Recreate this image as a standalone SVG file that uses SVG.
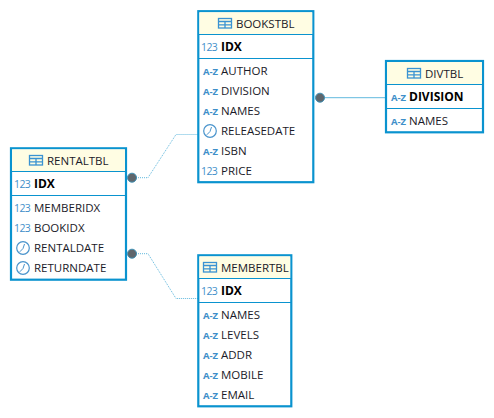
<svg xmlns="http://www.w3.org/2000/svg" width="494" height="418" viewBox="0 0 494 418">
<style>
.box{fill:#fff;stroke:#0a93cf;stroke-width:2.2}
.head{fill:#fffde3}
.sep{stroke:#0a93cf;stroke-width:1.2;fill:none}
text{font-family:"Open Sans","Noto Sans","Liberation Sans",sans-serif;font-size:11.5px;fill:#1a1a28}
.b{font-weight:700;font-size:12px;fill:#000}
.n{fill:#3f8fc9;font-size:10.5px;letter-spacing:-.6px}
.a{fill:#3f8fc9;font-size:9.5px;font-weight:700}
.ti rect{fill:none;stroke:#3a93d2;stroke-width:1.3}
.ti path{fill:none;stroke:#3a93d2;stroke-width:1.3}
.ck circle{fill:#fff;stroke:#4a94cc;stroke-width:1.2}
.ck path{fill:none;stroke:#4a94cc;stroke-width:1}
.c{fill:none;stroke:#62b9de;stroke-width:1}
.d{stroke-dasharray:1 1}
.dot{fill:#5f666c;stroke:#3e90b5;stroke-width:1}
</style>
<defs>
<g id="tbl" class="ti"><rect x="0.500" y="0.500" width="13" height="9.500"/><path d="M0.500 3.500H13.500M0.500 6.800H13.500M7 3.500V10"/></g>
<g id="clk" class="ck"><circle cx="7" cy="6.500" r="6.300"/><path d="M8.500 2.500L7 7L3.800 10.300"/></g>
</defs>
<g id="connectors">
<path class="c" d="M320 97.700H386"/>
<path class="c d" d="M132 177.700H148L176 134.500H198"/>
<path class="c d" d="M132 253.700H148L176 298.500H198"/>
</g>
<g id="BOOKSTBL">
<rect class="box" x="198.300" y="11.200" width="115" height="171"/>
<rect class="head" x="199.400" y="12.300" width="112.800" height="21.700"/>
<path class="sep" d="M199 34.500H313M199 58.500H313"/>
<use href="#tbl" x="218" y="18"/>
<text x="236" y="27.500">BOOKSTBL</text>
<text class="n" x="201" y="51">123</text><text class="b" x="221" y="51">IDX</text>
<text class="a" x="203" y="75">A-Z</text><text x="221" y="75">AUTHOR</text>
<text class="a" x="203" y="95">A-Z</text><text x="221" y="95">DIVISION</text>
<text class="a" x="203" y="115">A-Z</text><text x="221" y="115">NAMES</text>
<use href="#clk" x="203" y="124.500"/><text x="221" y="135">RELEASEDATE</text>
<text class="a" x="203" y="155">A-Z</text><text x="221" y="155">ISBN</text>
<text class="n" x="201" y="175">123</text><text x="221" y="175">PRICE</text>
</g>
<g id="DIVTBL">
<rect class="box" x="386" y="61" width="97" height="71.300"/>
<rect class="head" x="387.100" y="62.100" width="94.800" height="21.900"/>
<path class="sep" d="M387 84.500H482M387 108.500H482"/>
<use href="#tbl" x="407" y="68"/>
<text x="425" y="77.500">DIVTBL</text>
<text class="a" x="391" y="101">A-Z</text><text class="b" x="409" y="101">DIVISION</text>
<text class="a" x="391" y="125">A-Z</text><text x="409" y="125">NAMES</text>
</g>
<g id="RENTALTBL">
<rect class="box" x="11" y="148.300" width="115" height="131.400"/>
<rect class="head" x="12.100" y="149.400" width="112.800" height="22"/>
<path class="sep" d="M12 171.500H125M12 195.500H125"/>
<use href="#tbl" x="29" y="155"/>
<text x="47" y="164.500">RENTALTBL</text>
<text class="n" x="14" y="188">123</text><text class="b" x="34" y="188">IDX</text>
<text class="n" x="14" y="212">123</text><text x="34" y="212">MEMBERIDX</text>
<text class="n" x="14" y="232">123</text><text x="34" y="232">BOOKIDX</text>
<use href="#clk" x="16" y="241.500"/><text x="34" y="252">RENTALDATE</text>
<use href="#clk" x="16" y="261.500"/><text x="34" y="272">RETURNDATE</text>
</g>
<g id="MEMBERTBL">
<rect class="box" x="198.300" y="255.300" width="93" height="151"/>
<rect class="head" x="199.400" y="256.400" width="90.800" height="21.600"/>
<path class="sep" d="M199 278.500H291M199 302.500H291"/>
<use href="#tbl" x="203" y="262"/>
<text x="221" y="271.500">MEMBERTBL</text>
<text class="n" x="201" y="295">123</text><text class="b" x="221" y="295">IDX</text>
<text class="a" x="203" y="319">A-Z</text><text x="221" y="319">NAMES</text>
<text class="a" x="203" y="339">A-Z</text><text x="221" y="339">LEVELS</text>
<text class="a" x="203" y="359">A-Z</text><text x="221" y="359">ADDR</text>
<text class="a" x="203" y="379">A-Z</text><text x="221" y="379">MOBILE</text>
<text class="a" x="203" y="399">A-Z</text><text x="221" y="399">EMAIL</text>
</g>
<g id="endpoints">
<circle class="dot" cx="320" cy="97.700" r="4.500"/>
<circle class="dot" cx="132" cy="177.700" r="4.500"/>
<circle class="dot" cx="132" cy="253.700" r="4.500"/>
</g>
</svg>
